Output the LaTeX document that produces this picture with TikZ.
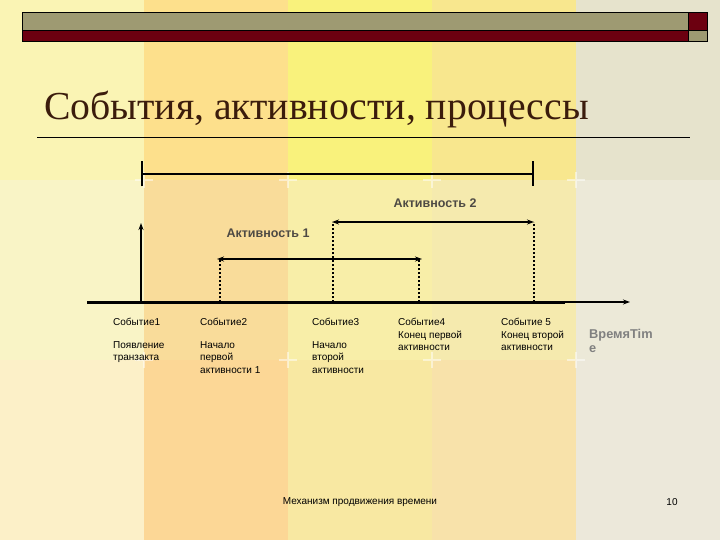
\documentclass[tikz,border=0pt]{standalone}
\usepackage{fontspec}
\setmainfont{Liberation Serif}
\setsansfont{Liberation Sans}
\usepackage{tikz}
\usetikzlibrary{positioning, arrows.meta}

\definecolor{topA}{HTML}{FAF4B4}
\definecolor{topB}{HTML}{FDE08C}
\definecolor{topC}{HTML}{F9F27C}
\definecolor{topD}{HTML}{F8E78E}
\definecolor{topE}{HTML}{E6E3CC}
\definecolor{midA}{HTML}{F9F4C6}
\definecolor{midB}{HTML}{F9DC9A}
\definecolor{midC}{HTML}{F8EEA8}
\definecolor{midD}{HTML}{F5EAAE}
\definecolor{midE}{HTML}{ECE9D8}
\definecolor{lowA}{HTML}{FCF0C8}
\definecolor{lowB}{HTML}{FCD796}
\definecolor{lowC}{HTML}{F8E8A2}
\definecolor{lowD}{HTML}{F8E2AA}
\definecolor{lowE}{HTML}{ECE8DA}
\definecolor{barGrey}{HTML}{9E9A72}
\definecolor{barRed}{HTML}{6C0010}
\definecolor{titleBrown}{HTML}{3B1C0C}
\definecolor{actGrey}{HTML}{4E4A44}
\definecolor{timeGrey}{HTML}{808080}

\begin{document}
\begin{tikzpicture}[x=1pt, y=-1pt, >={Stealth[length=7pt,width=5pt]},
  title node/.style={anchor=base west, inner sep=0pt, text=titleBrown,
    font=\fontsize{39.7}{46}\selectfont},
  event node/.style={anchor=north west, inner sep=0pt, align=left,
    font=\sffamily\fontsize{10}{12.5}\selectfont},
  act node/.style={inner sep=0pt, text=actGrey,
    font=\sffamily\bfseries\fontsize{12.5}{14}\selectfont},
  time node/.style={anchor=north west, inner sep=0pt, align=left, text=timeGrey,
    font=\sffamily\bfseries\fontsize{12.8}{14.5}\selectfont},
  foot node/.style={inner sep=0pt, font=\sffamily\fontsize{10}{12}\selectfont},
  act arrow/.style={line width=2.4pt, <->},
  mark line/.style={line width=1.8pt, dash pattern=on 2pt off 2pt}]

\useasboundingbox (0,0) rectangle (720,540);

\fill[topA] (0,0) rectangle (144,180);
\fill[topB] (144,0) rectangle (288,180);
\fill[topC] (288,0) rectangle (432,180);
\fill[topD] (432,0) rectangle (576,180);
\fill[topE] (576,0) rectangle (720,180);
\fill[midA] (0,180) rectangle (144,360);
\fill[midB] (144,180) rectangle (288,360);
\fill[midC] (288,180) rectangle (432,360);
\fill[midD] (432,180) rectangle (576,360);
\fill[midE] (576,180) rectangle (720,360);
\fill[lowA] (0,360) rectangle (144,540);
\fill[lowB] (144,360) rectangle (288,540);
\fill[lowC] (288,360) rectangle (432,540);
\fill[lowD] (432,360) rectangle (576,540);
\fill[lowE] (576,360) rectangle (720,540);
\foreach \x in {144,288,432,576}
  \foreach \y in {180,360}
    \draw[white, line width=1.5pt, opacity=0.5] (\x-9,\y) -- (\x+9,\y) (\x,\y-8) -- (\x,\y+8);

\draw[fill=barGrey] (22,12) rectangle (688,30);
\draw[fill=barRed] (22,30) rectangle (688,41);
\draw[fill=barRed] (688,12) rectangle (707,30);
\draw[fill=barGrey] (688,30) rectangle (707,41);

\node[title node] (title) at (44,120) {События, активности, процессы};
\draw[line width=0.8pt] (37,137) -- (690,137);

\coordinate (O) at (87,302);
\coordinate (T) at (630,302);
\coordinate (Tk) at (565,302);
\coordinate (e1) at (141,302);
\coordinate (e1t) at (141,223);
\coordinate (pL) at (141,174);
\coordinate (pR) at (534,174);
\coordinate (a1L) at (217,259);
\coordinate (a1R) at (422,259);
\coordinate (a2L) at (332,222);
\coordinate (a2R) at (534,222);
\coordinate (d1) at (220,302);
\coordinate (d1t) at (220,259);
\coordinate (d2) at (419,302);
\coordinate (d2t) at (419,259);
\coordinate (d3) at (333,302);
\coordinate (d3t) at (333,222);
\coordinate (d4) at (534,302);
\coordinate (d4t) at (534,222);

\draw[line width=2pt, {Bar[width=25pt]}-{Bar[width=25pt]}] (pL) -- (pR);
\draw[line width=2pt, ->] (O) -- (T);
\draw[line width=3pt] (O) -- (Tk);
\draw[line width=2.2pt, ->] (e1) -- (e1t);

\draw[mark line] (d1) -- (d1t);
\draw[mark line] (d2) -- (d2t);
\draw[mark line] (d3) -- (d3t);
\draw[mark line] (d4) -- (d4t);
\draw[act arrow] (a1L) -- (a1R);
\draw[act arrow] (a2L) -- (a2R);

\node[act node] (act1) at (268,233) {Активность 1};
\node[act node] (act2) at (435,203) {Активность 2};

\node[event node] (ev1) at (113,318) {Событие1\\[10pt]Появление\\транзакта};
\node[event node] (ev2) at (200,318) {Событие2\\[10pt]Начало\\первой\\активности 1};
\node[event node] (ev3) at (312,318) {Событие3\\[10pt]Начало\\второй\\активности};
\node[event node] (ev4) at (398,318) {Событие4\\Конец первой\\активности};
\node[event node] (ev5) at (501,318) {Событие 5\\Конец второй\\активности};
\node[time node] (time) at (589,329) {ВремяTim\\e};

\node[foot node] (foot) at (360,502) {Механизм продвижения времени};
\node[foot node] (num) at (672,502) {10};
\end{tikzpicture}
\end{document}
